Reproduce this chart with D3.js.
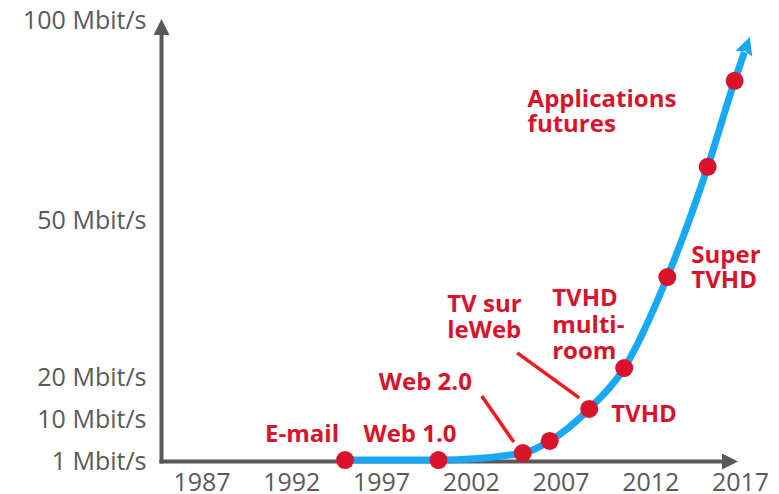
<!DOCTYPE html>
<html>
<head>
<meta charset="utf-8">
<script src="https://cdn.jsdelivr.net/npm/d3@7"></script>
<style>
    body { margin: 0; background: #fff; }
    #chart { width: 779px; height: 494px; }
</style>
</head>
<body>
<div id="chart"></div>
<script>
// milestones on the curve
var years = [1995, 2000.2, 2004.9, 2006.4, 2008.6, 2010.55, 2012.95, 2015.2, 2016.7];
var rates = [1.2, 1.2, 2.7, 5.3, 12.4, 21.7, 39.1, 63.3, 84.8];
// where the curve ends (arrow)
var endYear = 2017.25, endRate = 92;

var yearTicks = [1987, 1992, 1997, 2002, 2007, 2012, 2017];
var rateTicks = [1, 10, 20, 50, 100];

var labelTexts = [["E-mail"], ["Web 1.0"], ["Web 2.0"], ["TV sur", "leWeb"], ["TVHD"],
    ["TVHD", "multi-", "room"], ["Super", "TVHD"], ["Applications", "futures"]];
var labelPoint = [0, 1, 2, 4, 4, 5, 6, 8];

var width = 779, height = 494;
var red = "#d9132b", blue = "#19a9f2", grey = "#595959";

var svg = d3.select("#chart").append("svg")
    .attr("width", width)
    .attr("height", height);

var x = d3.scaleLinear().domain([1987, 2017]).range([201.5, 740]);
// the rate axis is not regular in the original, so piecewise
var y = d3.scaleLinear().domain(rateTicks).range([461, 419, 377, 220, 20]);

var originX = 161.5, originY = 461.5;

var defs = svg.append("defs");
defs.append("marker")
    .attr("id", "axisArrow")
    .attr("markerUnits", "userSpaceOnUse")
    .attr("viewBox", "0 0 16 16")
    .attr("refX", 0).attr("refY", 8)
    .attr("markerWidth", 16).attr("markerHeight", 16)
    .attr("orient", "auto")
    .append("path")
    .attr("d", "M0,0L16,8L0,16Z")
    .attr("fill", grey);
defs.append("marker")
    .attr("id", "trendArrow")
    .attr("markerUnits", "userSpaceOnUse")
    .attr("viewBox", "0 0 18 18")
    .attr("refX", 2).attr("refY", 9)
    .attr("markerWidth", 18).attr("markerHeight", 18)
    .attr("orient", "auto")
    .append("path")
    .attr("d", "M0,0L18,9L0,18L3,9Z")
    .attr("fill", blue);

// axes lines with arrows
svg.append("line")
    .attr("x1", originX).attr("y1", originY + 2)
    .attr("x2", originX).attr("y2", 35)
    .attr("stroke", grey).attr("stroke-width", 4)
    .attr("marker-end", "url(#axisArrow)");
svg.append("line")
    .attr("x1", originX - 2).attr("y1", originY)
    .attr("x2", 722).attr("y2", originY)
    .attr("stroke", grey).attr("stroke-width", 4)
    .attr("marker-end", "url(#axisArrow)");

var xAxis = svg.append("g")
    .attr("transform", "translate(0," + originY + ")")
    .call(d3.axisBottom(x).tickValues(yearTicks).tickFormat(d3.format("d")).tickSize(0).tickPadding(12));
var yAxis = svg.append("g")
    .attr("transform", "translate(" + originX + ",0)")
    .call(d3.axisLeft(y).tickValues(rateTicks).tickFormat(function (d) { return d + " Mbit/s"; }).tickSize(0).tickPadding(15));

[xAxis, yAxis].forEach(function (g) {
    g.select(".domain").remove();
    g.selectAll("text")
        .attr("fill", grey)
        .style("font-family", "'Open Sans'")
        .style("font-size", "25px");
});

// trend curve
var pts = years.map(function (d, i) { return [x(d), y(rates[i])]; });
var line = d3.line().curve(d3.curveMonotoneX);
svg.append("path")
    .attr("d", line(pts.concat([[x(endYear), y(endRate)]])))
    .attr("fill", "none")
    .attr("stroke", blue)
    .attr("stroke-width", 7)
    .attr("marker-end", "url(#trendArrow)");

// leader lines
var leaders = [
    {p: 2, from: [-41, -57], to: [-9, -11]},
    {p: 4, from: [-72, -56], to: [-10, -11]}
];
svg.selectAll(".leader")
    .data(leaders)
    .enter().append("line")
    .attr("class", "leader")
    .attr("x1", function (d) { return pts[d.p][0] + d.from[0]; })
    .attr("y1", function (d) { return pts[d.p][1] + d.from[1]; })
    .attr("x2", function (d) { return pts[d.p][0] + d.to[0]; })
    .attr("y2", function (d) { return pts[d.p][1] + d.to[1]; })
    .attr("stroke", "#f51a1a")
    .attr("stroke-width", 3.5);

svg.selectAll(".dot")
    .data(pts)
    .enter().append("circle")
    .attr("class", "dot")
    .attr("cx", function (d) { return d[0]; })
    .attr("cy", function (d) { return d[1]; })
    .attr("r", 9)
    .attr("fill", red);

// labels: offset of first baseline from the point, and line height
var labelPos = [
    [-80, -18, 26], [-75, -18, 26], [-144, -63, 26], [-142, -97, 26],
    [22, 13, 26], [-72, -62, 26.5], [24, -14, 25], [-207, 26, 25]
];
var labels = svg.selectAll(".label")
    .data(labelTexts)
    .enter().append("text")
    .attr("class", "label")
    .attr("fill", red)
    .style("font-family", "'Open Sans'")
    .style("font-weight", "bold")
    .style("font-size", "24px");
labels.each(function (lines, i) {
    var p = pts[labelPoint[i]], o = labelPos[i];
    d3.select(this).selectAll("tspan")
        .data(lines)
        .enter().append("tspan")
        .attr("x", p[0] + o[0])
        .attr("y", function (d, j) { return p[1] + o[1] + j * o[2]; })
        .text(function (d) { return d; });
});
</script>
</body>
</html>
